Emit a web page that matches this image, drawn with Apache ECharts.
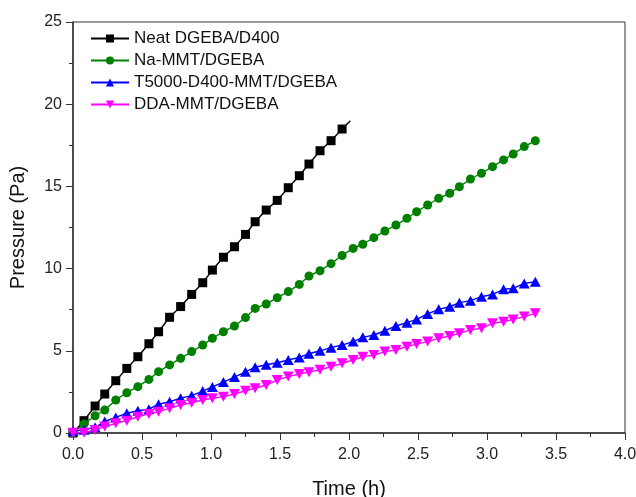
<!DOCTYPE html>
<html>
<head>
<meta charset="utf-8">
<script src="https://cdn.jsdelivr.net/npm/echarts@6/dist/echarts.min.js"></script>
<style>html,body{margin:0;padding:0;background:#fff;}#c{width:636px;height:497px;}</style>
</head>
<body>
<div id="c"></div>
<script>
var seriesNames = ['Neat DGEBA/D400', 'Na-MMT/DGEBA', 'T5000-D400-MMT/DGEBA', 'DDA-MMT/DGEBA'];
var times = [0, 0.08, 0.16, 0.23, 0.31, 0.39, 0.47, 0.55, 0.62, 0.70, 0.78, 0.86, 0.94, 1.01, 1.09, 1.17, 1.25, 1.32, 1.40, 1.48, 1.56, 1.64, 1.71, 1.79, 1.87, 1.95, 2.03, 2.10, 2.18, 2.26, 2.34, 2.42, 2.49, 2.57, 2.65, 2.73, 2.80, 2.88, 2.96, 3.04, 3.12, 3.19, 3.27, 3.35];
var neatVals = [0, 0.75, 1.64, 2.37, 3.18, 3.93, 4.64, 5.43, 6.16, 7.04, 7.69, 8.43, 9.14, 9.91, 10.69, 11.33, 12.08, 12.85, 13.56, 14.15, 14.92, 15.65, 16.36, 17.17, 17.78, 18.49];
var neatEnd = [2.01, 19.0];
var naVals = [0, 0.55, 1.05, 1.40, 2.01, 2.45, 2.82, 3.26, 3.73, 4.14, 4.54, 4.95, 5.35, 5.76, 6.16, 6.51, 7.02, 7.58, 7.85, 8.23, 8.60, 9.04, 9.55, 9.87, 10.3, 10.8, 11.23, 11.48, 11.88, 12.29, 12.65, 13.06, 13.46, 13.87, 14.28, 14.58, 14.98, 15.45, 15.80, 16.20, 16.61, 16.97, 17.42, 17.78];
var t5000Vals = [0.1, 0.2, 0.35, 0.7, 0.95, 1.2, 1.35, 1.45, 1.75, 1.9, 2.12, 2.27, 2.55, 2.8, 3.1, 3.4, 3.72, 4.0, 4.15, 4.27, 4.44, 4.6, 4.82, 5.0, 5.19, 5.35, 5.56, 5.82, 5.96, 6.22, 6.51, 6.71, 6.91, 7.24, 7.52, 7.68, 7.93, 8.05, 8.29, 8.43, 8.74, 8.80, 9.10, 9.20];
var ddaVals = [0.02, 0.02, 0.18, 0.39, 0.59, 0.75, 0.99, 1.16, 1.30, 1.50, 1.70, 1.84, 2.01, 2.11, 2.21, 2.37, 2.57, 2.72, 2.92, 3.22, 3.43, 3.59, 3.70, 3.85, 4.03, 4.24, 4.44, 4.64, 4.74, 4.95, 5.05, 5.25, 5.41, 5.56, 5.76, 5.90, 6.06, 6.27, 6.37, 6.67, 6.77, 6.91, 7.08, 7.28];
var xTicks = ['0.0', '0.5', '1.0', '1.5', '2.0', '2.5', '3.0', '3.5', '4.0'];
var yTicks = ['0', '5', '10', '15', '20', '25'];

function pairs(vals) {
  return vals.map(function (v, i) { return [times[i], v]; });
}
var neatData = pairs(neatVals);
neatData.push({ value: neatEnd, symbol: 'none' });

var colors = ['#000000', '#008000', '#0000ff', '#ff00ff'];
var symbols = ['rect', 'circle', 'triangle', 'path://M0,0 L10,0 L5,9 Z'];
var sizes = [9, 9, [11, 10], [11, 10]];
var datas = [neatData, pairs(naVals), pairs(t5000Vals), pairs(ddaVals)];
var FONT = 'Liberation Sans, Arial, sans-serif';

var chart = echarts.init(document.getElementById('c'), null, { renderer: 'canvas' });
chart.setOption({
  animation: false,
  backgroundColor: '#fff',
  grid: { left: 73, right: 11, top: 22, bottom: 64, outerBoundsMode: 'none', containLabel: false,
    show: true, borderColor: '#333', borderWidth: 1, backgroundColor: 'transparent' },
  legend: {
    left: 90, top: 30, orient: 'vertical', padding: 0,
    itemWidth: 38, itemHeight: 10, itemGap: 5,
    textStyle: { fontFamily: FONT, fontSize: 17, color: '#111', lineHeight: 15 },
    data: seriesNames
  },
  xAxis: {
    type: 'value', min: 0, max: 4, interval: 0.5,
    name: 'Time (h)', nameLocation: 'middle', nameGap: 46,
    nameTextStyle: { fontFamily: FONT, fontSize: 20, color: '#111' },
    axisLine: { show: true, onZero: false, lineStyle: { color: '#333', width: 1.5 } },
    axisTick: { show: true, inside: false, length: 7, lineStyle: { color: '#333' } },
    minorTick: { show: true, splitNumber: 2, length: 4, lineStyle: { color: '#333' } },
    splitLine: { show: false },
    axisLabel: { margin: 14, fontFamily: FONT, fontSize: 16, color: '#222',
      formatter: function (v) { var i = Math.round(v / 0.5); return xTicks[i] !== undefined ? xTicks[i] : ''; } }
  },
  yAxis: {
    type: 'value', min: 0, max: 25, interval: 5,
    name: 'Pressure (Pa)', nameLocation: 'middle', nameGap: 45, nameRotate: 90,
    nameTextStyle: { fontFamily: FONT, fontSize: 20, color: '#111' },
    axisLine: { show: true, onZero: false, lineStyle: { color: '#333', width: 1.5 } },
    axisTick: { show: true, inside: false, length: 7, lineStyle: { color: '#333' } },
    minorTick: { show: true, splitNumber: 2, length: 4, lineStyle: { color: '#333' } },
    splitLine: { show: false },
    axisLabel: { margin: 11, fontFamily: FONT, fontSize: 16, color: '#222',
      formatter: function (v) { var i = Math.round(v / 5); return yTicks[i] !== undefined ? yTicks[i] : ''; } }
  },
  series: seriesNames.map(function (n, k) {
    return {
      name: n, type: 'line', data: datas[k],
      symbol: symbols[k], symbolSize: sizes[k],
      showAllSymbol: true,
      lineStyle: { color: colors[k], width: 1.4 },
      itemStyle: { color: colors[k], borderWidth: 0 },
      z: 2 + k
    };
  })
});
</script>
</body>
</html>
